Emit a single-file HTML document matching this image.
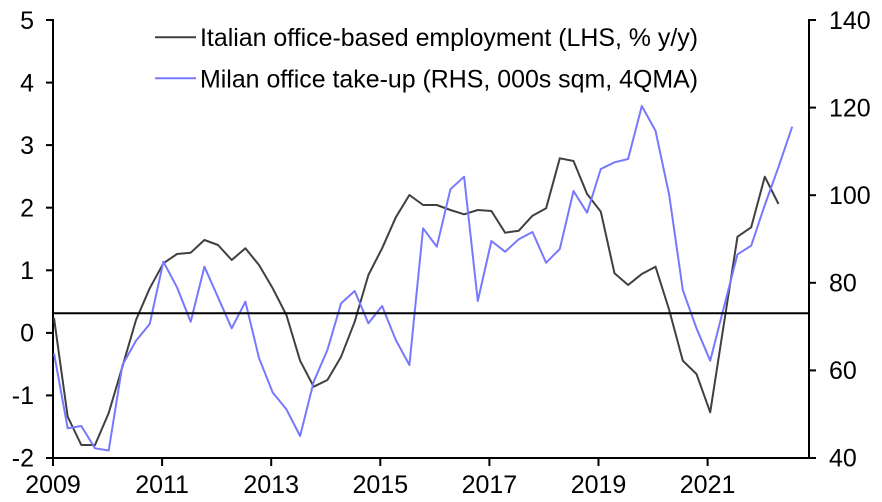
<!DOCTYPE html>
<html><head><meta charset="utf-8"><style>
html,body{margin:0;padding:0;background:#fff;}
svg{display:block;}
text{font-family:"Liberation Sans",Arial,sans-serif;font-size:25px;fill:#000;}
</style></head><body>
<svg width="882" height="502" viewBox="0 0 882 502" xmlns="http://www.w3.org/2000/svg">
<rect width="882" height="502" fill="#fff"/>
<!-- axes -->
<g stroke="#000" stroke-width="2" fill="none">
<line x1="53" y1="19" x2="53" y2="459"/>
<line x1="809" y1="19" x2="809" y2="459"/>
<line x1="52" y1="458" x2="810" y2="458"/>
<!-- left ticks -->
<line x1="46" y1="20" x2="53" y2="20"/>
<line x1="46" y1="82.6" x2="53" y2="82.6"/>
<line x1="46" y1="145.1" x2="53" y2="145.1"/>
<line x1="46" y1="207.7" x2="53" y2="207.7"/>
<line x1="46" y1="270.3" x2="53" y2="270.3"/>
<line x1="46" y1="332.9" x2="53" y2="332.9"/>
<line x1="46" y1="395.4" x2="53" y2="395.4"/>
<line x1="46" y1="458" x2="53" y2="458"/>
<!-- right ticks -->
<line x1="809" y1="20" x2="816" y2="20"/>
<line x1="809" y1="107.6" x2="816" y2="107.6"/>
<line x1="809" y1="195.2" x2="816" y2="195.2"/>
<line x1="809" y1="282.8" x2="816" y2="282.8"/>
<line x1="809" y1="370.4" x2="816" y2="370.4"/>
<line x1="809" y1="458" x2="816" y2="458"/>
<!-- x ticks -->
<line x1="53" y1="458" x2="53" y2="466"/>
<line x1="162.1" y1="458" x2="162.1" y2="466"/>
<line x1="271.2" y1="458" x2="271.2" y2="466"/>
<line x1="380.3" y1="458" x2="380.3" y2="466"/>
<line x1="489.4" y1="458" x2="489.4" y2="466"/>
<line x1="598.5" y1="458" x2="598.5" y2="466"/>
<line x1="707.6" y1="458" x2="707.6" y2="466"/>
</g>
<!-- series -->
<polyline fill="none" stroke="#404040" stroke-width="2" stroke-linejoin="round" points="54,318 67.7,416.7 81.3,445 95,445 108.7,413 122.4,366.7 136,320 149.7,288.3 163.4,263.3 177,254 190.7,252.7 204.4,240 218,245 231.7,260 245.4,248.3 259,265 272.7,288.3 286.4,315 300.1,360.7 313.7,386.7 327.4,380 341.1,356.7 354.7,321.7 368.4,275 382.1,248.3 395.8,217.3 409.4,195 423.1,205 436.8,205 450.4,210 464.1,214.3 477.8,210 491.4,211 505.1,232.7 518.8,230.7 532.5,215.7 546.1,208.3 559.8,158.3 573.5,161 587.1,194 600.8,211.7 614.5,273.3 628.1,285 641.8,274 655.5,266.7 669.2,310 682.8,360.7 696.5,374 710.2,412.3 723.8,324.5 737.5,236.7 751.2,227.3 764.8,176.7 778.5,204"/>
<polyline fill="none" stroke="#7878ff" stroke-width="2" stroke-linejoin="round" points="54,353.3 67.7,428.3 81.3,426 95,448.3 108.7,450.5 122.4,365 136,340.7 149.7,324 163.4,261.7 177,287.3 190.7,321.7 204.4,266.7 218,297.3 231.7,328.3 245.4,301.7 259,358 272.7,392.5 286.4,409.3 300.1,436 313.7,381.7 327.4,350 341.1,303.3 354.7,291 368.4,323.3 382.1,306 395.8,340 409.4,365 423.1,228.3 436.8,246.7 450.4,189.3 464.1,176.7 477.8,301 491.4,241 505.1,251.7 518.8,239.3 532.5,232 546.1,262.7 559.8,249 573.5,191 587.1,212.7 600.8,169 614.5,162.3 628.1,159 641.8,106 655.5,130.7 669.2,195 682.8,290 696.5,328.3 710.2,360.7 723.8,307.5 737.5,254.3 751.2,245.7 764.8,205 778.5,167 792.2,126.7"/>
<line x1="53" y1="313.3" x2="809" y2="313.3" stroke="#000" stroke-width="2"/>
<!-- left labels -->
<g text-anchor="end">
<text x="34" y="29">5</text>
<text x="34" y="91.5">4</text>
<text x="34" y="154">3</text>
<text x="34" y="216.5">2</text>
<text x="34" y="279">1</text>
<text x="34" y="341.5">0</text>
<text x="34" y="404">-1</text>
<text x="34" y="466.5">-2</text>
</g>
<!-- right labels -->
<g text-anchor="start">
<text x="829" y="29">140</text>
<text x="829" y="116.5">120</text>
<text x="829" y="204">100</text>
<text x="829" y="291.5">80</text>
<text x="829" y="379">60</text>
<text x="829" y="466.5">40</text>
</g>
<!-- x labels -->
<g text-anchor="middle">
<text x="53" y="493">2009</text>
<text x="162.1" y="493">2011</text>
<text x="271.2" y="493">2013</text>
<text x="380.3" y="493">2015</text>
<text x="489.4" y="493">2017</text>
<text x="598.5" y="493">2019</text>
<text x="707.6" y="493">2021</text>
</g>
<!-- legend -->
<line x1="155" y1="37.3" x2="196" y2="37.3" stroke="#404040" stroke-width="2"/>
<line x1="155" y1="78.3" x2="196" y2="78.3" stroke="#7878ff" stroke-width="2"/>
<text x="200" y="46" textLength="498" lengthAdjust="spacingAndGlyphs">Italian office-based employment (LHS, % y/y)</text>
<text x="200" y="87.5" textLength="498" lengthAdjust="spacingAndGlyphs">Milan office take-up (RHS, 000s sqm, 4QMA)</text>
</svg>
</body></html>
